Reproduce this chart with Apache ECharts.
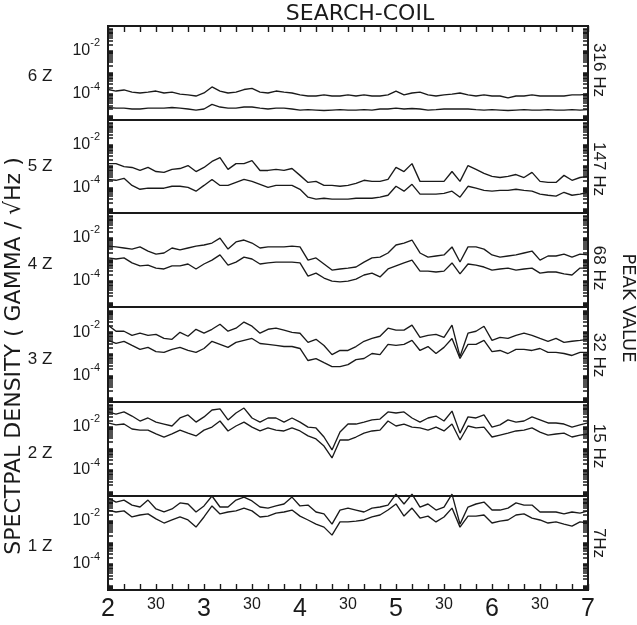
<!DOCTYPE html>
<html><head><meta charset="utf-8">
<script src="https://cdn.jsdelivr.net/npm/echarts@6/dist/echarts.min.js"></script>
<style>html,body{margin:0;padding:0;background:#fff}#c{width:637px;height:625px}</style>
</head><body><div id="c"></div>
<script>
// Time of day in minutes (2h .. 7h)
const TIMES = [120,125,130,135,140,145,150,155,160,165,170,175,180,185,190,195,200,205,210,215,220,225,230,235,240,245,250,255,260,265,270,275,280,285,290,295,300,305,310,315,320,325,330,335,340,345,350,355,360,365,370,375,380,385,390,395,400,405,410,415,420];

// Panel labels (top to bottom)
const PANEL_NAMES = ['6 Z','5 Z','4 Z','3 Z','2 Z','1 Z'];
const FREQ_LABELS = ['316 Hz','147 Hz','68 Hz','32 Hz','15 Hz','7Hz'];
const Y_LABEL_EXPONENTS = [-2, -4];
const MINOR_MULTIPLIERS = [2,3,4,5,6,7,8,9];

// log10 of spectral density (gamma / sqrt Hz); upper = peak, lower = average
const Z6_UPPER = [-3.79,-3.86,-3.81,-3.91,-3.95,-3.91,-3.86,-3.95,-3.91,-4.0,-4.04,-4.09,-3.95,-3.67,-3.86,-3.95,-3.91,-3.79,-3.74,-3.91,-3.95,-3.86,-3.91,-3.95,-4.04,-4.09,-4.09,-4.04,-4.09,-4.09,-4.04,-4.09,-4.04,-4.09,-4.09,-4.04,-3.86,-4.04,-3.95,-3.91,-4.04,-4.09,-4.04,-4.0,-3.95,-4.04,-4.09,-4.04,-4.09,-4.09,-4.18,-4.09,-4.09,-4.04,-4.09,-4.09,-4.09,-4.09,-4.04,-4.04,-4.0];
const Z6_LOWER = [-4.62,-4.65,-4.65,-4.69,-4.69,-4.65,-4.65,-4.65,-4.62,-4.65,-4.69,-4.74,-4.69,-4.48,-4.60,-4.65,-4.65,-4.60,-4.60,-4.65,-4.69,-4.65,-4.65,-4.69,-4.74,-4.72,-4.74,-4.76,-4.74,-4.72,-4.74,-4.74,-4.72,-4.74,-4.69,-4.69,-4.65,-4.69,-4.67,-4.69,-4.74,-4.72,-4.69,-4.69,-4.69,-4.69,-4.72,-4.74,-4.72,-4.74,-4.76,-4.74,-4.72,-4.74,-4.74,-4.72,-4.74,-4.74,-4.72,-4.74,-4.72];
const Z5_UPPER = [-2.89,-2.89,-3.03,-3.07,-3.21,-3.07,-3.26,-3.30,-3.16,-3.12,-2.98,-3.26,-3.07,-2.79,-2.61,-3.16,-2.89,-2.89,-2.75,-3.21,-3.21,-3.16,-3.21,-3.12,-3.44,-3.77,-3.72,-3.91,-3.91,-3.95,-3.91,-3.81,-3.67,-3.72,-3.72,-3.63,-3.07,-3.26,-2.89,-3.72,-3.72,-3.72,-3.72,-3.26,-3.72,-2.98,-3.16,-3.35,-3.49,-3.54,-3.49,-3.40,-3.54,-3.30,-3.72,-3.77,-3.77,-3.44,-3.67,-3.54,-3.49];
const Z5_LOWER = [-3.63,-3.67,-3.58,-3.91,-4.09,-4.04,-4.04,-4.04,-3.95,-3.95,-4.0,-4.18,-3.91,-3.63,-3.91,-3.91,-3.77,-3.63,-3.72,-3.86,-4.0,-3.91,-3.91,-3.91,-4.09,-4.46,-4.55,-4.51,-4.55,-4.55,-4.55,-4.51,-4.51,-4.51,-4.46,-4.37,-3.95,-4.18,-3.86,-4.32,-4.32,-4.32,-4.28,-4.18,-4.46,-3.95,-4.04,-4.14,-4.18,-4.14,-4.14,-4.09,-4.14,-4.18,-4.32,-4.37,-4.41,-4.23,-4.37,-4.32,-4.23];
const Z4_UPPER = [-2.38,-2.42,-2.47,-2.52,-2.42,-2.61,-2.75,-2.70,-2.47,-2.56,-2.47,-2.38,-2.33,-2.24,-2.01,-2.52,-2.19,-2.10,-2.24,-2.47,-2.42,-2.42,-2.42,-2.38,-2.42,-3.03,-2.93,-3.21,-3.49,-3.44,-3.40,-3.35,-3.12,-2.93,-2.89,-2.70,-2.33,-2.24,-2.10,-2.70,-2.89,-2.84,-2.79,-2.42,-3.12,-2.42,-2.42,-2.52,-2.79,-2.89,-2.84,-2.79,-2.70,-2.61,-3.03,-2.84,-2.84,-2.75,-2.89,-2.75,-2.79];
const Z4_LOWER = [-2.93,-2.98,-2.93,-3.16,-3.30,-3.26,-3.40,-3.44,-3.30,-3.30,-3.21,-3.44,-3.21,-3.03,-2.79,-3.26,-3.12,-2.89,-2.98,-3.21,-3.16,-3.12,-3.12,-3.12,-3.16,-3.77,-3.63,-3.86,-4.0,-4.04,-4.0,-3.91,-3.72,-3.63,-3.81,-3.44,-3.30,-3.16,-3.03,-3.54,-3.54,-3.58,-3.54,-3.16,-3.67,-3.21,-3.26,-3.35,-3.49,-3.44,-3.40,-3.49,-3.44,-3.40,-3.63,-3.58,-3.58,-3.67,-3.72,-3.40,-3.40];
const Z3_UPPER = [-1.68,-1.96,-1.96,-2.15,-2.05,-2.15,-2.10,-2.29,-2.33,-2.01,-2.19,-1.87,-2.05,-1.87,-1.64,-1.96,-1.82,-1.54,-1.73,-2.05,-1.87,-1.82,-1.91,-2.01,-2.05,-2.47,-2.33,-2.61,-3.03,-2.84,-2.84,-2.66,-2.42,-2.29,-2.19,-1.82,-1.91,-1.91,-1.68,-2.24,-2.15,-2.10,-2.24,-1.68,-3.12,-2.05,-1.96,-1.73,-2.38,-2.24,-2.29,-2.15,-2.05,-2.15,-2.29,-2.42,-2.29,-2.47,-2.42,-2.38,-2.33];
const Z3_LOWER = [-2.38,-2.52,-2.42,-2.61,-2.79,-2.70,-2.89,-2.93,-2.79,-2.70,-2.84,-2.93,-2.75,-2.42,-2.56,-2.70,-2.47,-2.38,-2.29,-2.52,-2.56,-2.61,-2.66,-2.66,-2.75,-3.30,-3.21,-3.40,-3.58,-3.58,-3.49,-3.26,-3.21,-2.98,-3.03,-2.56,-2.61,-2.56,-2.38,-2.84,-2.66,-2.98,-2.70,-2.29,-3.21,-2.56,-2.56,-2.38,-2.89,-2.84,-2.98,-2.79,-2.79,-2.84,-2.75,-2.93,-2.93,-2.98,-3.07,-2.93,-2.93];
const Z2_UPPER = [-1.31,-1.41,-1.31,-1.50,-1.73,-1.59,-1.78,-1.87,-1.96,-1.59,-1.45,-1.78,-1.54,-1.22,-1.17,-1.68,-1.36,-1.13,-1.59,-1.78,-1.59,-1.59,-1.78,-1.59,-1.78,-2.01,-2.05,-2.47,-3.07,-2.24,-1.87,-1.87,-1.78,-1.68,-1.64,-1.31,-1.36,-1.31,-1.59,-1.78,-1.59,-1.50,-1.73,-1.27,-2.29,-1.54,-1.59,-1.45,-2.01,-1.91,-1.68,-1.78,-1.73,-1.54,-1.68,-1.82,-1.82,-1.87,-2.01,-1.91,-1.82];
const Z2_LOWER = [-1.82,-1.91,-1.87,-2.10,-2.15,-2.15,-2.33,-2.47,-2.33,-2.15,-2.29,-2.42,-2.15,-2.01,-1.73,-2.19,-1.96,-1.78,-2.01,-2.19,-2.05,-2.15,-2.19,-2.05,-2.19,-2.42,-2.56,-2.89,-3.44,-2.61,-2.61,-2.47,-2.29,-2.19,-2.15,-1.73,-1.96,-1.87,-2.01,-2.05,-2.15,-2.01,-2.19,-1.87,-2.61,-1.96,-2.05,-2.01,-2.47,-2.38,-2.29,-2.19,-2.15,-2.05,-2.24,-2.38,-2.33,-2.29,-2.47,-2.38,-2.33];
const Z1_UPPER = [-0.94,-1.13,-1.04,-1.27,-1.36,-1.04,-1.45,-1.59,-1.45,-1.17,-1.22,-1.59,-1.31,-0.85,-1.36,-1.36,-1.04,-0.90,-1.08,-1.36,-1.41,-1.31,-1.22,-0.90,-1.31,-1.27,-1.59,-1.68,-2.15,-1.50,-1.41,-1.50,-1.59,-1.41,-1.36,-1.27,-0.76,-1.22,-0.76,-1.36,-1.22,-1.50,-1.36,-0.76,-2.15,-1.36,-1.22,-1.13,-1.50,-1.50,-1.41,-1.17,-1.27,-1.27,-1.59,-1.59,-1.59,-1.68,-1.59,-1.64,-1.54];
const Z1_LOWER = [-1.50,-1.59,-1.54,-1.82,-1.73,-1.68,-1.91,-2.10,-1.96,-1.82,-1.96,-2.29,-1.82,-1.31,-1.68,-1.59,-1.54,-1.41,-1.54,-1.82,-1.78,-1.64,-1.59,-1.50,-1.78,-1.96,-2.15,-2.29,-2.66,-2.05,-2.05,-2.01,-1.96,-1.82,-1.73,-1.50,-1.22,-1.78,-1.41,-1.87,-1.78,-2.05,-1.82,-1.41,-2.29,-1.78,-1.78,-1.73,-2.10,-2.01,-1.96,-1.73,-1.68,-1.87,-1.96,-2.10,-2.05,-2.15,-2.24,-2.05,-2.10];

const UPPER = [Z6_UPPER, Z5_UPPER, Z4_UPPER, Z3_UPPER, Z2_UPPER, Z1_UPPER];
const LOWER = [Z6_LOWER, Z5_LOWER, Z4_LOWER, Z3_LOWER, Z2_LOWER, Z1_LOWER];

// ---- layout ----
const TOPS = [26, 120, 213, 307, 402, 496];
const BOTTOM = 590;
const LEFT = 108, PLOT_W = 480;
const YMIN = -5.2, YMAX = -0.85;
const NAME_Y = [76, 166, 264, 359, 453, 546];
const FREQ_Y = [70, 169, 268, 355, 446, 543];
const INK = '#1a1a1a';

// log-scale tick positions (decades and 2..9 sub-decades) within the axis range
const ALL_TICKS = [];
[-6, -5, -4, -3, -2, -1].forEach(d => {
  if (d >= YMIN && d <= YMAX) ALL_TICKS.push(d);
  MINOR_MULTIPLIERS.forEach(m => {
    const v = d + Math.log10(m);
    if (v >= YMIN && v <= YMAX) ALL_TICKS.push(v);
  });
});

const grids = [], xAxes = [], yAxes = [], series = [];
for (let i = 0; i < 6; i++) {
  const h = (i < 5 ? TOPS[i + 1] : BOTTOM) - TOPS[i];
  grids.push({left: LEFT, top: TOPS[i], width: PLOT_W, height: h, show: true,
    borderColor: INK, borderWidth: 2, backgroundColor: 'rgba(0,0,0,0)'});
  xAxes.push({
    gridIndex: i, type: 'value', min: 120, max: 420, interval: 10, position: 'bottom',
    axisLine: {show: false}, splitLine: {show: false},
    axisTick: {show: i === 5, inside: true, length: 6, lineStyle: {color: INK, width: 1.4}},
    axisLabel: {
      show: i === 5, margin: 7, color: INK, showMinLabel: true, showMaxLabel: true,
      formatter: v => (v % 60 === 0 ? '{h|' + (v / 60) + '}' : (v % 60 === 30 ? '{m|30}' : '')),
      rich: {
        h: {fontSize: 25, fontFamily: 'Liberation Sans', color: INK},
        m: {fontSize: 16, fontFamily: 'Liberation Sans', color: INK}
      }
    }
  });
  const yBase = {gridIndex: i, type: 'value', min: YMIN, max: YMAX,
    axisLine: {show: true, lineStyle: {color: INK, width: 2}}, splitLine: {show: false},
    axisTick: {show: true, inside: true, length: 5, customValues: ALL_TICKS, lineStyle: {color: INK, width: 1.5}}};
  yAxes.push(Object.assign({}, yBase, {
    position: 'left',
    axisLabel: {
      show: true, customValues: Y_LABEL_EXPONENTS, margin: 8, color: INK,
      formatter: v => '{b|10}{s|' + Math.round(v) + '}',
      rich: {
        b: {fontSize: 16, lineHeight: 26, fontFamily: 'Liberation Sans', color: INK},
        s: {fontSize: 11, lineHeight: 12, verticalAlign: 'top', fontFamily: 'Liberation Sans', color: INK}
      }
    }
  }));
  yAxes.push(Object.assign({}, yBase, {position: 'right', axisLabel: {show: false}}));
  [UPPER[i], LOWER[i]].forEach(arr => {
    series.push({
      type: 'line', xAxisIndex: i, yAxisIndex: i * 2, showSymbol: false, symbol: 'none',
      clip: false, animation: false,
      lineStyle: {color: INK, width: 1.35},
      data: TIMES.map((t, k) => [t, arr[k]])
    });
  });
}
// top tick axis on first panel
xAxes.push({gridIndex: 0, type: 'value', min: 120, max: 420, interval: 10, position: 'top',
  axisLine: {show: false}, splitLine: {show: false}, axisLabel: {show: false},
  axisTick: {show: true, inside: true, length: 6, lineStyle: {color: INK, width: 1.4}}});

function txt(text, x, y, size, rot, family) {
  return {type: 'text', x: x, y: y, rotation: rot || 0, silent: true,
    style: {text: text, fill: INK, font: size + 'px "' + (family || 'Liberation Sans') + '"',
      align: 'center', verticalAlign: 'middle', textAlign: 'center', textVerticalAlign: 'middle'}};
}
const graphics = [];
graphics.push(txt('SEARCH-COIL', 360, 14, 22, 0, 'DejaVu Sans'));
PANEL_NAMES.forEach((n, i) => graphics.push(txt(n, 40, NAME_Y[i], 17)));
FREQ_LABELS.forEach((n, i) => graphics.push(txt(n, 599, FREQ_Y[i], 17, -Math.PI / 2)));
graphics.push(txt('SPECTPAL DENSITY ( GAMMA / \u221AHz )', 14, 356, 22, Math.PI / 2, 'DejaVu Sans'));
graphics.push(txt('PEAK VALUE', 628, 308, 18, -Math.PI / 2, 'DejaVu Sans'));

const chart = echarts.init(document.getElementById('c'), null, {renderer: 'canvas'});
chart.setOption({
  backgroundColor: '#ffffff',
  animation: false,
  grid: grids, xAxis: xAxes, yAxis: yAxes, series: series,
  graphic: graphics
});
</script></body></html>
